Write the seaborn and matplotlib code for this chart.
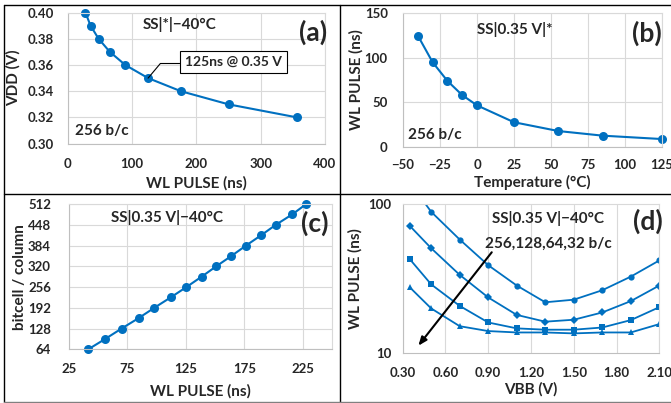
import numpy as np
import pandas as pd
import matplotlib
matplotlib.use("Agg")
import matplotlib.pyplot as plt
import seaborn as sns
from matplotlib.lines import Line2D

sns.set_style("white")
plt.rcParams['font.family'] = ['Lato', 'DejaVu Sans']
plt.rcParams['font.weight'] = 'bold'

# (a) VDD vs WL pulse
a_pulse = [27.5, 35.5, 48, 65.5, 89.5, 125, 176, 250, 357]
a_vdd = [0.40, 0.39, 0.38, 0.37, 0.36, 0.35, 0.34, 0.33, 0.32]

# (b) WL pulse vs temperature
b_temp = [-40, -30, -20, -10, 0, 25, 55, 85, 125]
b_pulse = [125, 95, 74, 58, 46.5, 27.5, 17.6, 12.4, 8.6]

# (c) bitcells per column vs WL pulse
c_pulse = [41.5, 56, 70, 84.5, 98, 112, 125.5, 138.5, 151, 164, 176.5, 189.5, 202, 216, 228]
c_bits = [64, 96, 128, 160, 192, 224, 256, 288, 320, 352, 384, 416, 448, 480, 512]

# (d) WL pulse vs VBB for 4 column heights
d_vbb = [0.35, 0.5, 0.7, 0.9, 1.1, 1.3, 1.5, 1.7, 1.9, 2.1]
d_256 = [140, 89, 58, 39, 28.5, 22, 22.9, 26.5, 32.7, 42]
d_128 = [71.6, 50.7, 33.6, 23.7, 18.1, 16.3, 16.8, 18.8, 22.4, 28.5]
d_64 = [42.8, 29, 20.8, 16.1, 14.7, 14.4, 14.4, 14.9, 16.7, 20.4]
d_32 = [27.7, 20, 15.2, 14.1, 13.8, 13.8, 13.6, 13.8, 13.8, 15.7]

BLUE = '#0070C0'
W, H = 671, 403
TICK = 9.5
LAB = 11

fig = plt.figure(figsize=(W / 100, H / 100), dpi=100)


def box(l, r, t, b):
    return [l / W, 1 - b / H, (r - l) / W, (b - t) / H]


def style(ax, xpad, ypad):
    ax.grid(True, color='#d9d9d9', lw=0.8)
    for s in ax.spines.values():
        s.set_color('#d9d9d9')
    ax.spines['left'].set_color('#bfbfbf')
    ax.spines['bottom'].set_color('#bfbfbf')
    ax.tick_params(axis='x', length=0, pad=xpad, labelsize=TICK)
    ax.tick_params(axis='y', length=0, pad=ypad, labelsize=TICK)
    for t in ax.get_xticklabels() + ax.get_yticklabels():
        t.set_fontweight('bold')


def labels(ax, xl, yl, xy, yx):
    ax.set_xlabel(xl, fontsize=LAB, fontweight='bold')
    ax.set_ylabel(yl, fontsize=LAB, fontweight='bold')
    ax.xaxis.label.set_va('center')
    ax.yaxis.label.set_va('center')
    ax.xaxis.set_label_coords(0.5, xy)
    ax.yaxis.set_label_coords(yx, 0.5)


def note(ax, x, y, s, size=LAB):
    ax.text(x, y, s, transform=ax.transAxes, ha='center', va='center',
            fontsize=size, fontweight='bold')


# ---- (a)
ax = fig.add_axes(box(67.7, 325, 12.5, 143.7))
sns.lineplot(x=a_pulse, y=a_vdd, ax=ax, color=BLUE, marker='o', markersize=6.5,
             markeredgewidth=0, lw=1.5)
ax.lines[0].set_clip_on(False)
ax.set_xlim(0, 400)
ax.set_ylim(0.30, 0.40)
ax.set_xticks([0, 100, 200, 300, 400])
ax.set_yticks(np.arange(0.30, 0.401, 0.02))
ax.set_yticklabels([f"{v:.2f}" for v in np.arange(0.30, 0.401, 0.02)])
style(ax, 10, 10)
labels(ax, "WL PULSE (ns)", "VDD (V)", -0.30, -0.21)
note(ax, 0.436, 0.905, "SS|*|\u221240°C")
note(ax, 0.953, 0.85, "(a)", 19)
note(ax, 0.132, 0.10, "256 b/c")
ax.annotate("125ns @ 0.35 V", xy=(a_pulse[5], a_vdd[5]), xytext=(0.644, 0.625),
            textcoords='axes fraction', ha='center', va='center', fontsize=10, fontweight='bold',
            bbox=dict(boxstyle='square,pad=0.35', fc='white', ec='black', lw=0.8),
            arrowprops=dict(arrowstyle='-', color='black', lw=0.8, shrinkA=0, shrinkB=0,
                            relpos=(0, 0.35), connectionstyle='angle,angleA=0,angleB=50,rad=0'))

# ---- (b)
ax = fig.add_axes(box(403, 662, 13.3, 146.7))
sns.lineplot(x=b_temp, y=b_pulse, ax=ax, color=BLUE, marker='o', markersize=6.5,
             markeredgewidth=0, lw=1.5)
ax.lines[0].set_clip_on(False)
ax.set_xlim(-50, 125)
ax.set_ylim(0, 150)
ax.set_xticks([-50, -25, 0, 25, 50, 75, 100, 125])
ax.set_yticks([0, 50, 100, 150])
style(ax, 9, 11)
labels(ax, "Temperature (°C)", "WL PULSE (ns)", -0.27, -0.18)
note(ax, 0.432, 0.88, "SS|0.35 V|*")
note(ax, 0.941, 0.85, "(b)", 19)
note(ax, 0.124, 0.088, "256 b/c")

# ---- (c)
ax = fig.add_axes(box(69, 332, 204, 349.3))
sns.lineplot(x=c_pulse, y=c_bits, ax=ax, color=BLUE, marker='o', markersize=6.5,
             markeredgewidth=0, lw=1.5)
ax.lines[0].set_clip_on(False)
ax.set_xlim(25, 250)
ax.set_ylim(64, 512)
ax.set_xticks([25, 75, 125, 175, 225])
ax.set_yticks(c_bits[::2])
style(ax, 10, 13)
labels(ax, "WL PULSE (ns)", "bitcell / column", -0.29, -0.186)
note(ax, 0.371, 0.906, "SS|0.35 V|\u221240°C")
note(ax, 0.935, 0.867, "(c)", 19)

# ---- (d)
ax = fig.add_axes(box(402.7, 659.3, 204.3, 353.3))
df = pd.DataFrame({
    'VBB': d_vbb * 4,
    'pulse': d_256 + d_128 + d_64 + d_32,
    'bc': ['256'] * 10 + ['128'] * 10 + ['64'] * 10 + ['32'] * 10,
})
sns.lineplot(data=df, x='VBB', y='pulse', style='bc', hue='bc', ax=ax,
             palette=[BLUE] * 4, markers={'256': 'o', '128': 'D', '64': 's', '32': '^'},
             dashes=False, markersize=4.5, markeredgewidth=0, lw=1.3, legend=False)
ax.set_yscale('log')
ax.set_xlim(0.30, 2.10)
ax.set_ylim(10, 100)
ax.set_xticks([0.30, 0.60, 0.90, 1.20, 1.50, 1.80, 2.10])
ax.set_xticklabels(["0.30", "0.60", "0.90", "1.20", "1.50", "1.80", "2.10"])
ax.set_yticks([10, 100])
ax.set_yticklabels(["10", "100"])
ax.yaxis.set_minor_locator(matplotlib.ticker.NullLocator())
style(ax, 10, 8)
ax.grid(False, axis='y')
labels(ax, "VBB (V)", "WL PULSE (ns)", -0.245, -0.186)
note(ax, 0.567, 0.906, "SS|0.35 V|\u221240°C")
note(ax, 0.567, 0.738, "256,128,64,32 b/c")
note(ax, 0.956, 0.888, "(d)", 19)
ax.annotate("", xy=(0.061, 0.051), xytext=(0.347, 0.678), xycoords='axes fraction',
            textcoords='axes fraction',
            arrowprops=dict(arrowstyle='-|>,head_length=0.5,head_width=0.2', color='black',
                            lw=1.5, shrinkA=0, shrinkB=0))

# panel frames
fig.add_artist(Line2D([4 / W, 1], [1 - 4.5 / H] * 2, color='black', lw=1))
fig.add_artist(Line2D([4 / W] * 2, [1 - 4.5 / H, 1 - 401.5 / H], color='black', lw=1))
fig.add_artist(Line2D([340 / W] * 2, [1 - 4.5 / H, 1 - 401.5 / H], color='black', lw=1))
fig.add_artist(Line2D([4 / W, 1], [1 - 194 / H] * 2, color='black', lw=1))
fig.add_artist(Line2D([4 / W, 1], [1 - 401.5 / H] * 2, color='#808080', lw=1))

fig.savefig("out.png", dpi=100)
